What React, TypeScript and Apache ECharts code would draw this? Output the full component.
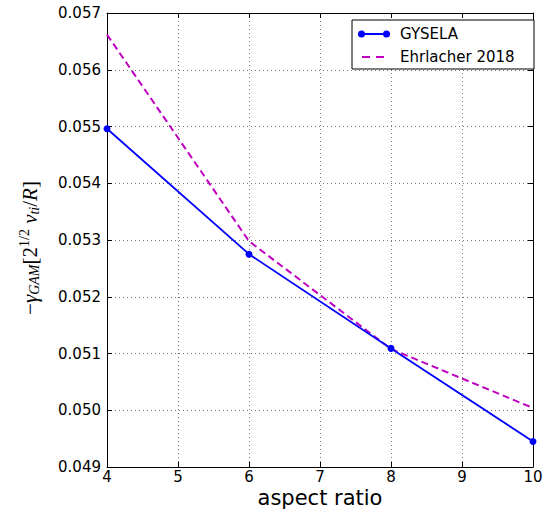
import React, { useEffect, useRef } from "react";
import * as echarts from "echarts";

const aspectRatio = [4, 6, 8, 10];
const gysela = [0.05496, 0.05275, 0.05109, 0.04945];
const ehrlacher = [0.05662, 0.05298, 0.05108, 0.05004];
const seriesNames = ["GYSELA", "Ehrlacher 2018"];
const xLabel = "aspect ratio";

export default function App() {
  const ref = useRef<HTMLDivElement>(null);
  useEffect(() => {
    const chart = echarts.init(ref.current!, null, { renderer: "svg" });
    const tickFont = { fontFamily: "DejaVu Sans", fontSize: 15, color: "#000" };
    const axisBase = {
      axisLine: { show: true, onZero: false, lineStyle: { color: "#000", width: 1 } },
      axisTick: { show: true, inside: true, length: 5, lineStyle: { color: "#000" } },
    };
    const serif = "Liberation Serif";
    chart.setOption({
      animation: false,
      backgroundColor: "#fff",
      grid: { left: 107, right: 10, top: 13, bottom: 42, containLabel: false, outerBoundsMode: "none" },
      xAxis: [
        {
          type: "value",
          min: 4,
          max: 10,
          interval: 1,
          ...axisBase,
          axisLabel: { ...tickFont, lineHeight: 15, margin: 2 },
          splitLine: { show: true, lineStyle: { type: [1, 3], color: "#777", width: 1 } },
        },
        {
          type: "value",
          position: "top",
          min: 4,
          max: 10,
          interval: 1,
          ...axisBase,
          axisLabel: { show: false },
          splitLine: { show: false },
        },
      ],
      yAxis: [
        {
          type: "value",
          min: 0.049,
          max: 0.057,
          interval: 0.001,
          ...axisBase,
          axisLabel: { ...tickFont, margin: 6, formatter: (v: number) => v.toFixed(3) },
          splitLine: { show: true, lineStyle: { type: [1, 3], color: "#777", width: 1 } },
        },
        {
          type: "value",
          position: "right",
          min: 0.049,
          max: 0.057,
          interval: 0.001,
          ...axisBase,
          axisLabel: { show: false },
          splitLine: { show: false },
        },
      ],
      legend: {
        orient: "vertical",
        left: 352,
        top: 20,
        width: 182,
        padding: [5, 8, 3, 6],
        itemGap: 5,
        itemWidth: 32,
        itemHeight: 10,
        borderColor: "#000",
        borderWidth: 1,
        borderRadius: 0,
        backgroundColor: "#fff",
        textStyle: {
          fontFamily: "DejaVu Sans",
          fontSize: 15,
          color: "#000",
          lineHeight: 18,
          padding: [0, 0, 0, 5],
          width: 126,
        },
        data: [
          {
            name: seriesNames[0],
            icon: "path://M0,4.1h32v1.8h-32z M0,5a3.5,3.5 0 1,1 7,0a3.5,3.5 0 1,1 -7,0z M25,5a3.5,3.5 0 1,1 7,0a3.5,3.5 0 1,1 -7,0z",
          },
          {
            name: seriesNames[1],
            icon: "path://M0,0h32v0.01h-32z M4,4h8v2h-8z M18,4h8v2h-8z M0,9.99h32v0.01h-32z",
          },
        ],
      },
      series: [
        {
          name: seriesNames[0],
          type: "line",
          data: aspectRatio.map((x, i) => [x, gysela[i]]),
          symbol: "circle",
          symbolSize: 7,
          showSymbol: true,
          clip: false,
          itemStyle: { color: "#0000ff" },
          lineStyle: { color: "#0000ff", width: 1.8 },
          z: 3,
        },
        {
          name: seriesNames[1],
          type: "line",
          data: aspectRatio.map((x, i) => [x, ehrlacher[i]]),
          symbol: "none",
          itemStyle: { color: "#bf00bf" },
          lineStyle: { color: "#bf00bf", width: 2, type: [7, 4] },
          z: 2,
        },
      ],
      graphic: [
        {
          type: "text",
          x: 320,
          y: 498,
          style: {
            text: xLabel,
            align: "center",
            verticalAlign: "middle",
            fontFamily: "DejaVu Sans",
            fontSize: 21,
            lineHeight: 20,
            fill: "#000",
          },
        },
        {
          type: "text",
          x: 30,
          y: 248,
          rotation: Math.PI / 2,
          style: {
            text: "{n|−}{a|γ}{s|GAM}{n|[2}{u|1/2}{a| v}{s|ti}{n|/}{a|R}{n|]}",
            align: "center",
            verticalAlign: "middle",
            rich: {
              a: { fontFamily: serif, fontStyle: "italic", fontSize: 21, fill: "#000" },
              n: { fontFamily: serif, fontSize: 21, fill: "#000" },
              s: { fontFamily: serif, fontStyle: "italic", fontSize: 14, fill: "#000", padding: [9, 0, 0, 0] },
              u: { fontFamily: serif, fontSize: 14, fill: "#000", padding: [0, 0, 11, 0] },
            },
          },
        },
      ],
    });
    return () => chart.dispose();
  }, []);
  return <div ref={ref} style={{ position: "absolute", left: 0, top: 0, width: 543, height: 509 }} />;
}
